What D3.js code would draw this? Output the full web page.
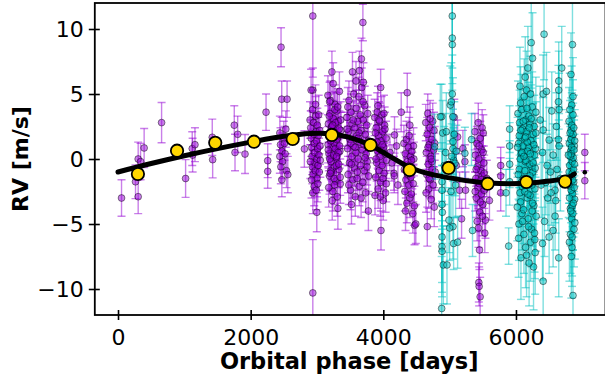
<!DOCTYPE html>
<html><head><meta charset="utf-8">
<script src="https://cdn.jsdelivr.net/npm/d3@7"></script>
<style>body{margin:0;background:#fff}svg{display:block}text{font-family:"DejaVu Sans",sans-serif}</style>
</head><body><svg id="c" width="605" height="380"></svg>
<script>
// [phase (days), RV (m/s), error (m/s)]
const instrumentA = [
[53,-3.0,1.4],[264,-1.75,1.3],[304,-2.9,1.3],[304,0.0,1.3],[340,-0.2,1.4],[394,0.85,1.5],[657,2.8,1.55],[1019,-1.5,1.45],[1119,0.8,1.3],[1160,1.1,1.3],[1125,0.3,1.3],[1421,1.67,1.4],[1427,-0.05,1.4],[1753,2.6,1.5],[1764,0.5,1.4],[1804,1.9,1.4],[1915,0.38,1.5],[2232,3.6,1.4],[2257,-0.13,1.3],[2257,-0.95,1.3],
[2458,8.6,1.5],[2468,4.6,1.4],[2549,4.6,1.4],[2440,2.0,1.3],[2450,1.1,1.3],[2470,0.6,1.4],[2480,-0.2,1.3],[2455,-0.6,1.3],[2500,1.6,1.3],[2520,0.4,1.4],[2540,-0.9,1.3],[2560,-1.2,1.4],[2470,-1.6,1.3],[2510,1.2,1.3],[2440,0.2,1.3],[2530,2.3,1.4],[2810,0.77,1.4],
[2937,11.0,4.7],[2937,-10.3,4.1],[2937,5.3,1.7],[2937,-2.6,1.6],[2997,-4.1,1.5],[2911,5.3,1.6],
[2895,3.0,1.4],[2905,2.4,1.3],[2912,1.6,1.4],[2920,0.9,1.3],[2925,0.2,1.4],[2930,-0.6,1.3],[2940,-1.2,1.4],[2948,2.8,1.5],[2955,1.9,1.3],[2960,1.2,1.4],[2965,0.5,1.3],[2970,-0.3,1.4],[2975,-0.9,1.3],[2980,3.3,1.5],[2985,2.1,1.4],[2990,1.4,1.3],[2995,0.0,1.4],[3000,-1.5,1.4],[3005,2.6,1.3],[3010,0.8,1.4],[3015,-0.5,1.3],[3020,1.8,1.4],[3025,3.4,1.5],[3030,0.3,1.3],[3035,-1.0,1.4],[3040,2.2,1.3],[3045,1.0,1.4],[2900,-0.2,1.3],[2918,-1.6,1.4],[2958,-2.1,1.5],[2988,-2.4,1.5],[3012,-1.9,1.4],[2933,3.8,1.5],[2977,4.2,1.5],[3050,-0.1,1.3],
[3165,4.9,1.5],[3172,2.7,1.4],[3180,0.4,1.3],[3188,-1.3,1.4],[3195,3.5,1.5],[3202,1.9,1.3],[3210,-0.2,1.4],[3218,2.4,1.3],[3225,6.7,1.6],[3232,0.9,1.4],[3240,-2.5,1.5],[3248,3.1,1.4],[3255,1.2,1.3],[3262,-0.6,1.4],[3270,4.2,1.5],[3278,2.0,1.3],[3285,-1.7,1.5],[3292,0.1,1.4],[3300,3.7,1.4],[3308,1.6,1.3],[3315,-3.8,1.6],[3322,2.9,1.4],[3330,-0.8,1.4],[3338,5.2,1.5],[3345,0.6,1.3],[3352,-1.9,1.5],[3360,2.2,1.4],[3168,1.1,1.4],[3176,-2.2,1.5],[3185,3.3,1.4],[3192,0.0,1.3],[3200,4.5,1.5],[3208,1.4,1.4],[3215,-1.0,1.4],[3222,2.5,1.3],[3230,-3.2,1.5],[3238,1.7,1.4],[3245,5.8,1.6],[3252,0.3,1.3],[3260,-1.5,1.4],[3268,3.8,1.4],[3275,0.8,1.3],[3282,2.8,1.4],[3290,-0.5,1.4],[3298,1.5,1.3],[3305,-2.9,1.5],[3312,4.0,1.4],[3320,0.5,1.3],[3328,-0.4,1.4],[3335,2.3,1.3],[3342,1.0,1.4],[3350,-1.4,1.4],[3358,3.0,1.4],[3170,0.7,1.3],[3190,4.4,1.5],[3205,-0.9,1.4],[3235,2.6,1.3],[3265,-2.0,1.5],[3295,0.2,1.3],[3325,1.8,1.4],[3200,-1.1,1.4],[3250,2.1,1.3],
[3692,10.5,1.4],[3535,6.7,1.5],[3640,6.8,1.5],[3670,7.7,1.6],[3775,-4.0,1.5],[3520,-3.5,1.5],
[3450,3.2,1.4],[3460,0.8,1.3],[3468,-1.2,1.4],[3475,2.1,1.3],[3482,4.5,1.5],[3490,-0.3,1.4],[3498,1.5,1.3],[3505,-2.4,1.5],[3512,3.6,1.4],[3525,0.2,1.3],[3530,2.7,1.4],[3540,-1.6,1.4],[3548,1.0,1.3],[3555,5.0,1.5],[3562,-0.7,1.4],[3570,2.4,1.3],[3578,-2.9,1.5],[3585,0.5,1.3],[3592,3.9,1.4],[3600,1.8,1.3],[3608,-1.0,1.4],[3615,2.9,1.4],[3622,0.0,1.3],[3630,4.8,1.5],[3638,-2.1,1.5],[3645,1.3,1.3],[3652,3.4,1.4],[3660,-0.5,1.4],[3668,2.2,1.3],[3675,5.5,1.5],[3682,0.7,1.3],[3690,-1.8,1.5],[3698,3.0,1.4],[3705,1.1,1.3],[3712,-0.9,1.4],[3720,4.1,1.5],[3728,1.9,1.3],[3735,-2.6,1.5],[3742,0.4,1.3],[3750,2.6,1.4],[3758,-0.2,1.4],[3765,3.5,1.4],[3772,1.4,1.3],[3780,-1.3,1.4],[3455,2.3,1.3],[3480,-2.0,1.5],[3510,1.2,1.3],[3545,3.0,1.4],[3575,0.9,1.3],[3605,-1.5,1.4],[3635,2.0,1.3],[3665,-3.0,1.5],[3695,4.4,1.5],[3725,0.1,1.3],[3755,-0.6,1.4],[3465,4.0,1.5],[3588,6.0,1.5],[3700,5.9,1.5],[3520,-0.4,1.3],[3620,1.6,1.3],
[3960,5.5,1.4],[3965,-5.5,1.5],
[3870,3.2,1.4],[3878,1.0,1.3],[3885,-1.4,1.4],[3892,2.4,1.3],[3900,-0.3,1.4],[3908,3.6,1.5],[3915,0.6,1.3],[3922,-2.3,1.5],[3930,1.8,1.3],[3938,-0.9,1.4],[3945,2.9,1.4],[3952,0.2,1.3],[3960,-1.8,1.4],[3968,1.4,1.3],[3975,3.4,1.4],[3982,-0.5,1.4],[3990,2.1,1.3],[3998,-3.2,1.5],[4005,0.9,1.3],[4012,-1.1,1.4],[4020,2.6,1.4],[4028,0.4,1.3],[4035,-2.6,1.5],[4042,1.6,1.3],[4050,-0.1,1.4],[3875,-2.8,1.5],[3905,1.3,1.3],[3935,3.0,1.4],[3965,0.7,1.3],[3995,-1.5,1.4],[4025,2.3,1.3],[3890,0.0,1.4],[3955,-2.9,1.5],[4010,3.5,1.4],[4045,-1.9,1.4],[3920,4.1,1.5],[3985,1.1,1.3],[3880,2.0,1.3],
[4100,0.5,1.4],[4130,-0.3,1.4],[4160,-1.1,1.3],[4165,-1.3,1.3],[4169,1.85,1.4],[4200,1.0,1.3],[4220,-2.0,1.5],[4270,3.6,1.5],
[4361,5.1,1.5],[4400,2.6,1.4],[4471,-5.1,1.5],[4490,-5.0,1.5],
[4310,1.2,1.4],[4318,-0.8,1.3],[4325,-2.5,1.5],[4332,0.4,1.3],[4340,-1.6,1.4],[4348,1.5,1.4],[4355,-3.4,1.5],[4362,-0.2,1.3],[4370,-1.2,1.4],[4378,0.9,1.3],[4385,-2.0,1.4],[4392,-0.5,1.3],[4400,-3.0,1.5],[4408,0.2,1.3],[4415,-1.4,1.4],[4422,-2.7,1.5],[4430,0.6,1.3],[4438,-0.9,1.4],[4445,-4.2,1.5],[4452,-1.9,1.4],[4460,0.0,1.3],[4468,-3.6,1.5],[4335,-4.0,1.5],[4390,1.8,1.4],[4425,-0.1,1.3],[4455,1.0,1.4],
[4663,-5.2,1.5],
[4640,2.8,1.4],[4648,0.5,1.3],[4655,-1.2,1.4],[4662,1.9,1.3],[4670,3.5,1.5],[4678,-0.4,1.3],[4685,-2.3,1.5],[4692,1.1,1.3],[4700,2.4,1.4],[4708,-1.6,1.4],[4715,0.2,1.3],[4722,-3.1,1.5],[4730,1.5,1.3],[4738,-0.8,1.4],[4745,2.9,1.4],[4752,-2.0,1.4],[4760,0.7,1.3],[4768,-3.7,1.5],[4775,1.2,1.3],[4782,-1.0,1.4],[4645,-2.6,1.5],[4675,0.9,1.3],[4705,3.1,1.4],[4735,-0.2,1.3],[4765,2.2,1.4],[4690,-1.5,1.4],[4720,0.0,1.3],
[5070,3.2,1.4],[5100,-0.5,1.3],[5150,-2.4,1.4],[5240,-2.4,1.4],[5230,-0.2,1.3],[5200,0.8,1.4],[5180,-4.6,1.5],[5120,1.7,1.3],
[5450,-7.0,1.5],[5440,-9.5,1.5],[5445,-9.8,1.5],[5460,-10.6,1.5],[5540,-4.7,1.4],
[5380,2.1,1.4],[5388,0.3,1.3],[5395,-1.5,1.4],[5402,-3.0,1.5],[5410,1.2,1.3],[5418,-0.6,1.4],[5425,-2.2,1.4],[5432,2.8,1.5],[5440,0.0,1.3],[5448,-1.9,1.4],[5455,-4.1,1.5],[5462,1.6,1.3],[5470,-0.9,1.4],[5478,-2.7,1.5],[5485,0.7,1.3],[5492,-1.3,1.4],[5500,-3.5,1.5],[5508,2.0,1.4],[5515,-0.3,1.3],[5522,-2.4,1.4],[5530,-5.7,1.5],[5385,-2.5,1.5],[5415,-4.8,1.5],[5445,1.0,1.3],[5475,-1.6,1.4],[5505,0.5,1.3],[5400,-0.8,1.3],[5465,-3.3,1.5],[5490,2.4,1.4],[5520,-1.1,1.4],[5435,-5.3,1.5],[5495,-4.4,1.5],
[5560,-1.5,1.4],[5600,-3.2,1.5],[5770,-0.5,1.4],[5770,-1.3,1.4],[5770,-2.6,1.4],
[7038,0.5,1.4],[7038,-1.67,1.4]
];
const instrumentB = [
[5040,11.0,4.0],[5040,9.3,3.5],[5040,8.8,3.5],[5010,4.15,3.0],[4880,3.25,2.5],[4895,2.0,2.5],[4950,2.1,3.0],[5050,3.25,3.0],[5050,1.33,2.5],[5050,0.8,2.5],[5060,-0.1,2.5],[5080,-0.33,2.5],[4885,-1.75,3.0],[4885,-2.4,3.0],[4885,-3.5,3.0],[4890,-4.1,3.0],[4990,-4.7,2.5],[5050,-5.2,2.5],[4885,-6.0,3.5],[4885,-6.75,3.5],[4885,-7.1,3.5],[4905,-8.15,3.0],[4960,-8.15,3.0],[4880,-11.5,4.0],[5060,-6.5,2.0],[5120,-6.4,2.0],[4774,0.95,2.5],[4859,3.25,2.5],[5000,-5.3,2.5],[5030,0.2,2.5],[5020,-2.5,2.5],[5070,1.9,2.5],[5100,0.6,2.0],[5090,-2.0,2.5],[4920,-0.5,3.0],[4940,0.5,3.0],[5040,5.0,3.0],[5025,4.4,3.0],
[5345,-5.5,2.0],[5330,1.5,2.0],[5230,0.44,2.0],
[5905,2.3,1.8],[5905,1.0,1.8],[5905,-0.4,1.8],[5905,-1.75,1.8],[5890,-6.7,1.4],[5850,-2.6,1.8],
[6030,3.5,2.5],[6040,1.2,2.2],[6050,-0.8,2.4],[6060,-2.6,2.6],[6070,4.3,2.8],[6080,0.4,2.2],[6090,-4.2,2.8],[6100,2.3,2.4],[6110,-1.5,2.3],[6120,-5.8,3.0],[6130,1.6,2.2],[6140,-0.2,2.3],[6150,3.0,2.6],[6160,5.3,3.0],[6170,-3.0,2.5],[6180,7.0,3.2],[6190,0.9,2.2],[6200,-1.9,2.4],[6210,2.7,2.5],[6220,-6.4,3.0],[6230,8.95,3.5],[6240,-0.6,2.3],[6250,7.75,3.5],[6260,1.9,2.4],[6270,-3.6,2.6],[6280,0.3,2.2],[6290,-7.2,3.2],[6300,2.0,2.4],[6035,-1.2,2.3],[6045,-5.0,2.8],[6055,2.8,2.5],[6065,0.0,2.2],[6075,-7.6,3.2],[6085,3.8,2.7],[6095,-2.1,2.4],[6105,1.0,2.2],[6115,-3.9,2.6],[6125,4.8,2.9],[6135,-0.9,2.3],[6145,-6.8,3.1],[6155,2.1,2.4],[6165,-1.6,2.3],[6175,0.6,2.2],[6185,-4.6,2.7],[6195,3.3,2.6],[6205,-0.4,2.3],[6215,-2.8,2.5],[6225,1.4,2.3],[6235,-5.4,2.9],[6245,4.0,2.7],[6255,-1.0,2.3],[6265,-8.3,3.3],[6275,2.5,2.4],[6285,-2.3,2.4],[6295,0.8,2.2],[6305,-4.4,2.7],[6050,1.8,2.3],[6070,-3.3,2.6],[6090,0.5,2.2],[6110,2.9,2.5],[6130,-2.5,2.5],[6150,-0.1,2.2],[6170,1.3,2.3],[6190,-5.2,2.9],[6210,-1.3,2.3],[6230,3.1,2.6],[6250,-3.4,2.6],[6270,1.1,2.3],[6290,-0.7,2.3],[6040,-6.1,3.0],[6080,-1.8,2.4],[6120,0.2,2.2],[6160,-7.4,3.2],[6200,2.4,2.4],[6240,-2.0,2.4],[6280,-5.7,3.0],[6060,5.6,3.0],[6140,6.3,3.1],[6220,5.0,2.9],[6100,-4.8,2.8],[6180,-2.7,2.5],[6260,-0.3,2.2],[6300,3.6,2.7],[6020,-3.7,2.6],[6025,0.9,2.3],[6145,1.7,2.4],[6215,0.4,2.2],[6285,-6.2,3.0],[6165,3.9,2.7],[6245,-4.0,2.7],[6198,-8.0,3.3],[6075,2.2,2.4],
[6424,9.6,3.5],[6410,5.0,3.0],[6460,5.2,3.0],[6410,2.23,2.5],[6540,3.7,3.0],[6645,6.0,3.0],[6645,5.3,3.0],[6640,4.4,2.8],[6650,3.8,2.8],[6500,1.46,2.5],[6640,1.5,2.5],[6650,1.0,2.5],[6590,-2.4,2.5],[6590,-4.4,2.6],[6645,-7.6,3.0],[6410,-9.4,3.2],[6400,-6.5,2.8],[6380,-2.0,2.5],[6470,-0.5,2.4],[6520,-1.0,2.4],[6560,0.3,2.4],[6600,-3.2,2.5],[6480,-3.0,2.5],[6430,-4.8,2.7],[6620,-0.8,2.4],[6560,-5.5,2.8],[6500,-6.0,2.8],[6400,0.5,2.4],[6450,-1.8,2.5],[6690,7.0,3.2],[6365,3.0,2.6],[6530,-2.6,2.5],[6610,2.5,2.6],[6670,-1.5,2.5],
[6852,8.8,3.5],[6830,6.5,3.2],[6860,4.8,3.0],[6840,4.15,3.0],[6860,-10.5,3.5],[6835,-7.5,3.2],[6845,-6.8,3.0],
[6800,2.9,2.6],[6805,1.2,2.4],[6810,-0.5,2.3],[6815,-2.1,2.5],[6820,-3.8,2.7],[6825,0.6,2.3],[6830,2.2,2.5],[6835,-1.3,2.4],[6840,-4.6,2.8],[6845,1.7,2.4],[6850,-0.2,2.3],[6855,-2.7,2.5],[6860,3.4,2.7],[6865,0.1,2.3],[6870,-1.8,2.4],[6875,-5.4,2.9],[6880,1.0,2.3],[6885,-3.1,2.6],[6802,-1.0,2.4],[6808,-3.0,2.6],[6812,3.8,2.8],[6818,0.2,2.3],[6822,-5.8,3.0],[6828,1.5,2.4],[6832,-2.4,2.5],[6838,0.9,2.3],[6842,2.6,2.5],[6848,-3.6,2.7],[6852,-1.1,2.4],[6858,-4.2,2.8],[6862,1.9,2.4],[6868,-0.8,2.3],[6872,2.4,2.5],[6878,-2.2,2.5],[6882,-0.4,2.3],[6888,-4.9,2.8],[6806,-6.4,3.0],[6826,-4.0,2.7],[6846,-6.0,3.0],[6866,-3.4,2.6],[6886,1.4,2.4],[6816,2.0,2.5],[6836,0.4,2.3],[6856,-1.6,2.4],[6876,0.7,2.3],[6796,-2.0,2.5],[6790,0.3,2.4]
];
const modelPhase = [0, 500, 1000, 1500, 2000, 2500, 2900, 3200, 3500, 3800, 4100, 4400, 4700, 5000, 5300, 5600, 5900, 6200, 6500, 6700, 6800, 6880];
const modelRV    = [-1.0, -0.35, 0.25, 0.8, 1.3, 1.75, 1.97, 1.95, 1.65, 1.08, 0.2, -0.65, -1.15, -1.45, -1.7, -1.85, -1.9, -1.85, -1.7, -1.55, -1.4, -1.15];
const modelEnd = [7038, -1.02];
const binPhase = [300, 890, 1466, 2050, 2634, 3223, 3807, 4396, 4984, 5573, 6157, 6741];
const binRV    = [-1.15, 0.64, 1.25, 1.33, 1.54, 1.85, 1.08, -0.85, -0.69, -1.9, -1.77, -1.74];
const xTicks = [0, 2000, 4000, 6000];
const yTicks = [-10, -5, 0, 5, 10];

const svg = d3.select('#c');
const L = 94.8, R = 605.5, T = 3, B = 315;
const x = d3.scaleLinear().domain([-350, 7350]).range([L, R]);
const y = d3.scaleLinear().domain([-12, 12]).range([B, T]);

svg.append('defs').append('clipPath').attr('id','clip').append('rect')
  .attr('x', L).attr('y', T).attr('width', R - L).attr('height', B - T);
const plot = svg.append('g').attr('clip-path','url(#clip)');

function drawSeries(data, color, cap) {
  const g = plot.append('g');
  const eb = g.append('g').attr('stroke', color).attr('stroke-opacity', 0.5).attr('stroke-width', 1.4);
  data.forEach(d => {
    const xp = x(d[0]), y1 = y(d[1] - d[2]), y2 = y(d[1] + d[2]);
    eb.append('line').attr('x1', xp).attr('x2', xp).attr('y1', y1).attr('y2', y2);
    eb.append('line').attr('x1', xp - cap).attr('x2', xp + cap).attr('y1', y1).attr('y2', y1);
    eb.append('line').attr('x1', xp - cap).attr('x2', xp + cap).attr('y1', y2).attr('y2', y2);
  });
  g.append('g').selectAll('circle').data(data).join('circle')
    .attr('cx', d => x(d[0])).attr('cy', d => y(d[1])).attr('r', 3.4)
    .attr('fill', color).attr('fill-opacity', 0.5)
    .attr('stroke', '#000').attr('stroke-opacity', 0.45).attr('stroke-width', 1);
}
drawSeries(instrumentA, '#9400d3', 4);
drawSeries(instrumentB, '#00bfbf', 4);

const model = modelPhase.map((p, i) => [p, modelRV[i]]);
plot.append('path').datum(model)
  .attr('d', d3.line().x(d => x(d[0])).y(d => y(d[1])).curve(d3.curveCatmullRom.alpha(0.5)))
  .attr('fill', 'none').attr('stroke', '#000').attr('stroke-width', 5).attr('stroke-linecap', 'round');
plot.append('circle').attr('cx', x(modelEnd[0])).attr('cy', y(modelEnd[1])).attr('r', 2.3).attr('fill', '#000');

plot.append('g').selectAll('circle').data(binPhase.map((p, i) => [p, binRV[i]])).join('circle')
  .attr('cx', d => x(d[0])).attr('cy', d => y(d[1])).attr('r', 6.2)
  .attr('fill', '#ffd700').attr('stroke', '#000').attr('stroke-width', 1.8);

// axes
const xa = svg.append('g').attr('transform', `translate(0,${B})`)
  .call(d3.axisBottom(x).tickValues(xTicks).tickSize(0).tickPadding(14).tickFormat(d3.format('d')));
const ya = svg.append('g').attr('transform', `translate(${L},0)`)
  .call(d3.axisLeft(y).tickValues(yTicks).tickSize(0).tickPadding(11).tickFormat(d => d < 0 ? '\u2212' + Math.abs(d) : d));
[xa, ya].forEach(a => { a.select('.domain').remove(); a.selectAll('text').attr('font-size', 22).attr('fill', '#000').attr('font-family','DejaVu Sans'); });
xa.selectAll('.tick').append('line').attr('y1', -5).attr('y2', 5).attr('stroke', '#000').attr('stroke-width', 1.6);
ya.selectAll('.tick').append('line').attr('x1', -6).attr('x2', 5).attr('stroke', '#000').attr('stroke-width', 1.6);
xa.selectAll('text').attr('dy', '0.71em');

svg.append('rect').attr('x', L).attr('y', T).attr('width', R - L).attr('height', B - T)
  .attr('fill', 'none').attr('stroke', '#000').attr('stroke-width', 1.8);

svg.append('text').attr('x', (L + R) / 2 - 1).attr('y', 369).attr('text-anchor', 'middle')
  .attr('font-size', 22.5).attr('font-weight', 'bold').text('Orbital phase [days]');
svg.append('text').attr('transform', `translate(28,${(T + B) / 2}) rotate(-90)`).attr('text-anchor', 'middle')
  .attr('font-size', 22).attr('font-weight', 'bold').text('RV [m/s]');
</script></body></html>
